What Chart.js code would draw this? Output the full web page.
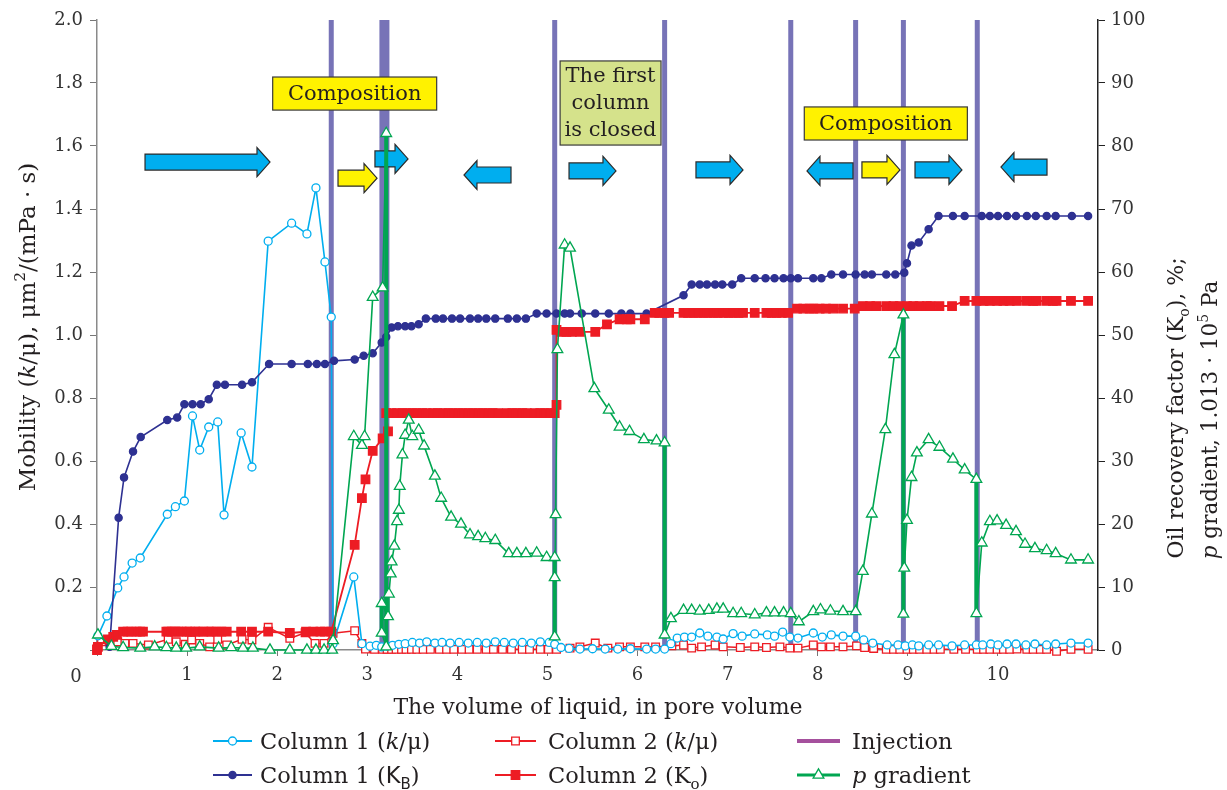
<!DOCTYPE html>
<html>
<head>
<meta charset="utf-8">
<script src="https://cdn.jsdelivr.net/npm/chart.js@4.4.1/dist/chart.umd.min.js"></script>
<style>
  html, body { margin: 0; padding: 0; background: #fff; }
  #wrap { width: 1227px; height: 790px; position: relative; }
</style>
</head>
<body>
<div id="wrap"><canvas id="chart"></canvas></div>
<script>
// Mobility and recovery vs injected pore volumes, two columns in series.
// Values: [pore volume, value].

// left axis, mobility k/mu, um2/(mPa*s)
const col1Mobility = [[0.01,0.045],[0.11,0.108],[0.23,0.197],[0.30,0.232],[0.39,0.276],[0.48,0.292],[0.78,0.431],[0.87,0.455],[0.97,0.473],[1.06,0.743],[1.14,0.635],[1.24,0.708],[1.34,0.724],[1.41,0.429],[1.60,0.689],[1.72,0.581],[1.90,1.298],[2.16,1.355],[2.33,1.321],[2.43,1.467],[2.53,1.232],[2.60,1.057],[2.62,0.020],[2.85,0.232],[2.94,0.020],[3.03,0.012],[3.10,0.015],[3.16,0.010],[3.22,0.012],[3.28,0.015],[3.35,0.018],[3.42,0.020],[3.50,0.024],[3.58,0.022],[3.66,0.026],[3.75,0.022],[3.83,0.024],[3.92,0.022],[4.02,0.024],[4.12,0.022],[4.22,0.024],[4.32,0.022],[4.42,0.026],[4.52,0.024],[4.62,0.022],[4.72,0.024],[4.82,0.022],[4.92,0.026],[5.02,0.024],[5.08,0.018],[5.15,0.008],[5.24,0.005],[5.36,0.003],[5.50,0.004],[5.64,0.003],[5.78,0.003],[5.92,0.004],[6.10,0.003],[6.20,0.003],[6.30,0.003],[6.37,0.020],[6.44,0.038],[6.52,0.041],[6.60,0.041],[6.69,0.054],[6.78,0.044],[6.88,0.041],[6.95,0.035],[7.06,0.052],[7.16,0.044],[7.30,0.051],[7.44,0.048],[7.52,0.044],[7.61,0.057],[7.69,0.041],[7.78,0.038],[7.95,0.054],[8.05,0.041],[8.15,0.048],[8.28,0.044],[8.42,0.044],[8.51,0.032],[8.61,0.022],[8.77,0.016],[8.89,0.016],[8.97,0.013],[9.05,0.016],[9.12,0.013],[9.23,0.016],[9.34,0.016],[9.49,0.013],[9.63,0.016],[9.76,0.016],[9.83,0.016],[9.92,0.019],[10.00,0.016],[10.10,0.019],[10.20,0.019],[10.31,0.016],[10.41,0.019],[10.54,0.016],[10.64,0.019],[10.81,0.022],[11.00,0.022]];

const col2Mobility = [[0.00,0.005],[0.05,0.026],[0.23,0.026],[0.31,0.021],[0.40,0.021],[0.57,0.016],[0.79,0.034],[0.88,0.026],[0.98,0.018],[1.05,0.032],[1.14,0.021],[1.25,0.010],[1.34,0.034],[1.44,0.016],[1.61,0.034],[1.72,0.032],[1.90,0.072],[2.14,0.037],[2.31,0.055],[2.42,0.021],[2.52,0.021],[2.62,0.053],[2.86,0.061],[2.94,0.021],[2.98,0.003],[3.08,0.002],[3.17,0.002],[3.22,0.002],[3.27,0.002],[3.32,0.002],[3.38,0.002],[3.43,0.002],[3.49,0.002],[3.55,0.002],[3.62,0.002],[3.70,0.002],[3.80,0.002],[3.88,0.002],[3.96,0.002],[4.05,0.002],[4.13,0.002],[4.22,0.002],[4.32,0.002],[4.40,0.002],[4.50,0.002],[4.60,0.002],[4.72,0.002],[4.80,0.002],[4.92,0.002],[5.01,0.002],[5.10,0.002],[5.25,0.006],[5.36,0.010],[5.53,0.022],[5.67,0.006],[5.80,0.010],[5.92,0.010],[6.08,0.010],[6.20,0.010],[6.38,0.013],[6.51,0.016],[6.60,0.006],[6.71,0.010],[6.86,0.016],[6.95,0.010],[7.14,0.008],[7.30,0.010],[7.43,0.008],[7.58,0.010],[7.69,0.006],[7.78,0.006],[7.95,0.016],[8.04,0.010],[8.14,0.010],[8.28,0.010],[8.43,0.013],[8.52,0.008],[8.62,0.005],[8.76,0.002],[8.84,0.002],[8.91,0.002],[8.99,0.002],[9.06,0.002],[9.13,0.002],[9.21,0.002],[9.29,0.002],[9.36,0.002],[9.51,0.002],[9.64,0.002],[9.77,0.002],[9.84,0.002],[9.91,0.002],[9.99,0.002],[10.06,0.002],[10.13,0.002],[10.21,0.003],[10.32,0.002],[10.39,0.002],[10.47,0.002],[10.54,0.002],[10.65,-0.004],[10.81,0.002],[11.00,0.002]];

// right axis, recovery factor %, pressure gradient
const col1Recovery = [[0.14,0.5],[0.24,21.0],[0.30,27.4],[0.40,31.5],[0.485,33.8],[0.78,36.5],[0.89,36.9],[0.97,39.0],[1.06,39.0],[1.15,39.0],[1.24,39.8],[1.33,42.1],[1.42,42.1],[1.61,42.1],[1.72,42.5],[1.91,45.4],[2.16,45.4],[2.34,45.4],[2.44,45.4],[2.53,45.4],[2.63,45.9],[2.86,46.1],[2.96,46.7],[3.06,47.1],[3.16,48.8],[3.21,49.7],[3.27,51.2],[3.34,51.4],[3.42,51.4],[3.49,51.4],[3.57,51.7],[3.65,52.6],[3.76,52.6],[3.84,52.6],[3.94,52.6],[4.03,52.6],[4.14,52.6],[4.23,52.6],[4.32,52.6],[4.42,52.6],[4.56,52.6],[4.66,52.6],[4.76,52.6],[4.88,53.4],[4.99,53.4],[5.10,53.4],[5.19,53.4],[5.25,53.4],[5.38,53.4],[5.53,53.4],[5.68,53.4],[5.82,53.4],[5.92,53.4],[6.10,53.4],[6.51,56.3],[6.60,58.0],[6.69,58.0],[6.77,58.0],[6.86,58.0],[6.94,58.0],[7.05,58.0],[7.15,59.0],[7.30,59.0],[7.42,59.0],[7.52,59.0],[7.62,59.0],[7.70,59.0],[7.78,59.0],[7.95,59.0],[8.04,59.0],[8.15,59.6],[8.28,59.6],[8.42,59.6],[8.52,59.6],[8.60,59.6],[8.76,59.6],[8.86,59.6],[8.96,59.9],[8.99,61.4],[9.04,64.2],[9.12,64.7],[9.23,66.8],[9.34,68.9],[9.50,68.9],[9.63,68.9],[9.82,68.9],[9.91,68.9],[10.00,68.9],[10.10,68.9],[10.20,68.9],[10.32,68.9],[10.42,68.9],[10.54,68.9],[10.64,68.9],[10.82,68.9],[11.00,68.9]];

const col2Recovery = [[0.00,0.0],[0.01,0.5],[0.12,1.7],[0.18,2.1],[0.22,2.4],[0.29,2.9],[0.34,2.9],[0.38,2.9],[0.44,2.9],[0.48,2.9],[0.51,2.9],[0.77,2.9],[0.79,2.9],[0.83,2.9],[0.87,2.9],[0.90,2.9],[0.94,2.9],[1.00,2.9],[1.03,2.9],[1.09,2.9],[1.13,2.9],[1.18,2.9],[1.24,2.9],[1.27,2.9],[1.33,2.9],[1.38,2.9],[1.44,2.9],[1.60,2.9],[1.72,2.9],[1.90,2.9],[2.14,2.7],[2.32,2.9],[2.40,2.9],[2.48,2.9],[2.53,2.9],[2.60,2.9],[2.86,16.7],[2.94,24.1],[2.98,27.1],[3.06,31.6],[3.17,33.6],[3.23,34.7],[3.21,37.6],[3.27,37.6],[3.33,37.6],[3.39,37.6],[3.44,37.6],[3.50,37.6],[3.55,37.6],[3.61,37.6],[3.66,37.6],[3.73,37.6],[3.78,37.6],[3.84,37.6],[3.90,37.6],[3.95,37.6],[4.01,37.6],[4.06,37.6],[4.12,37.6],[4.17,37.6],[4.23,37.6],[4.28,37.6],[4.34,37.6],[4.39,37.6],[4.45,37.6],[4.55,37.6],[4.61,37.6],[4.66,37.6],[4.72,37.6],[4.77,37.6],[4.86,37.6],[4.92,37.6],[4.97,37.6],[5.03,37.6],[5.08,37.6],[5.10,38.9],[5.10,50.8],[5.16,50.5],[5.21,50.5],[5.27,50.5],[5.36,50.5],[5.53,50.5],[5.66,51.7],[5.80,52.5],[5.88,52.5],[5.92,52.5],[6.08,52.5],[6.19,53.5],[6.24,53.5],[6.30,53.5],[6.35,53.5],[6.51,53.5],[6.56,53.5],[6.62,53.5],[6.67,53.5],[6.73,53.5],[6.78,53.5],[6.84,53.5],[6.89,53.5],[6.95,53.5],[7.01,53.5],[7.06,53.5],[7.12,53.5],[7.17,53.5],[7.30,53.5],[7.43,53.5],[7.49,53.5],[7.54,53.5],[7.60,53.5],[7.67,53.5],[7.77,54.2],[7.84,54.2],[7.91,54.2],[7.95,54.2],[8.02,54.2],[8.09,54.2],[8.17,54.2],[8.28,54.2],[8.41,54.2],[8.50,54.6],[8.58,54.6],[8.65,54.6],[8.76,54.6],[8.84,54.6],[8.91,54.6],[8.99,54.6],[9.06,54.6],[9.13,54.6],[9.21,54.6],[9.25,54.6],[9.35,54.6],[9.49,54.6],[9.63,55.4],[9.76,55.4],[9.84,55.4],[9.91,55.4],[9.99,55.4],[10.06,55.4],[10.13,55.4],[10.21,55.4],[10.32,55.4],[10.39,55.4],[10.43,55.4],[10.54,55.4],[10.61,55.4],[10.65,55.4],[10.81,55.4],[11.00,55.4]];

const pGradient = [[0.01,2.4],[0.16,0.6],[0.29,0.4],[0.48,0.3],[0.64,0.5],[0.77,0.4],[0.88,0.3],[0.99,0.3],[1.14,0.5],[1.35,0.3],[1.49,0.4],[1.62,0.3],[1.73,0.3],[1.92,0.0],[2.14,0.0],[2.33,0.0],[2.43,0.0],[2.52,0.0],[2.61,0.0],[2.62,1.5],[2.85,33.9],[2.94,32.5],[2.97,33.9],[3.06,56.0],[3.17,57.5],[3.21,82.0],[3.21,0.5],[3.16,2.7],[3.16,7.4],[3.23,5.3],[3.24,8.9],[3.26,12.1],[3.27,14.0],[3.30,16.5],[3.33,20.4],[3.35,22.2],[3.36,26.0],[3.39,31.0],[3.42,34.1],[3.46,36.5],[3.50,33.9],[3.57,34.9],[3.63,32.4],[3.75,27.6],[3.82,24.1],[3.93,21.1],[4.04,20.0],[4.14,18.3],[4.23,18.0],[4.31,17.7],[4.42,17.4],[4.57,15.3],[4.66,15.3],[4.76,15.3],[4.88,15.4],[4.99,14.7],[5.08,14.7],[5.08,11.5],[5.08,2.1],[5.09,21.5],[5.11,47.7],[5.19,64.3],[5.25,63.8],[5.52,41.5],[5.68,38.1],[5.80,35.4],[5.91,34.7],[6.07,33.4],[6.21,33.2],[6.30,32.9],[6.30,2.4],[6.37,5.0],[6.51,6.3],[6.60,6.3],[6.69,6.2],[6.79,6.3],[6.88,6.5],[6.95,6.5],[7.06,5.8],[7.15,5.8],[7.30,5.6],[7.43,5.9],[7.52,5.9],[7.62,5.9],[7.70,5.8],[7.79,4.5],[7.95,6.1],[8.03,6.4],[8.14,6.2],[8.28,6.1],[8.42,6.1],[8.50,12.5],[8.60,21.6],[8.75,35.0],[8.85,46.9],[8.95,53.2],[8.95,5.7],[8.96,13.0],[8.99,20.6],[9.04,27.4],[9.10,31.3],[9.23,33.4],[9.35,32.2],[9.50,30.3],[9.63,28.6],[9.76,27.1],[9.76,5.8],[9.82,17.0],[9.91,20.4],[9.99,20.5],[10.09,19.8],[10.20,18.8],[10.30,16.8],[10.41,16.1],[10.54,15.8],[10.64,15.3],[10.81,14.3],[11.00,14.3]];

// injection switch points, pore volumes
const injectionAt = [2.60, 3.19, 5.08, 6.30, 7.70, 8.42, 8.95, 9.77];

// ---- styles / annotations ----
const SERIF = '"DejaVu Serif", "Liberation Serif", serif';
const SANS = '"DejaVu Sans", sans-serif';
const INK = '#231f20';

const injectionWidth = x => (x === 3.19 ? 10 : 5);

// boxes in data units (x pore volume, y left axis)
const boxes = [
  { x0: 1.95, x1: 3.77, y0: 1.714, y1: 1.819, fill: '#fff200', lines: ['Composition'] },
  { x0: 5.14, x1: 6.26, y0: 1.603, y1: 1.870, fill: '#d5e28b', lines: ['The first', 'column', 'is closed'] },
  { x0: 7.85, x1: 9.66, y0: 1.619, y1: 1.724, fill: '#fff200', lines: ['Composition'] }
];

// flow direction arrows
const arrows = [
  { x0: 0.533, x1: 1.92, y: 1.549, dir: 1, fill: '#00aeef' },
  { x0: 2.675, x1: 3.108, y: 1.498, dir: 1, fill: '#fff200' },
  { x0: 3.085, x1: 3.452, y: 1.559, dir: 1, fill: '#00aeef' },
  { x0: 4.073, x1: 4.595, y: 1.508, dir: -1, fill: '#00aeef' },
  { x0: 5.239, x1: 5.760, y: 1.521, dir: 1, fill: '#00aeef' },
  { x0: 6.648, x1: 7.170, y: 1.524, dir: 1, fill: '#00aeef' },
  { x0: 7.880, x1: 8.391, y: 1.521, dir: -1, fill: '#00aeef' },
  { x0: 8.490, x1: 8.912, y: 1.524, dir: 1, fill: '#fff200' },
  { x0: 9.079, x1: 9.600, y: 1.524, dir: 1, fill: '#00aeef' },
  { x0: 10.033, x1: 10.544, y: 1.533, dir: -1, fill: '#00aeef' }
];

const pts = arr => arr.map(p => ({ x: p[0], y: p[1] }));

const series = [
  { key: 'pg', data: pGradient, axis: 'y1', color: '#00a651', shape: 'triangle', r: 6.2, fill: '#fff', bw: 1.6 },
  { key: 'c2k', data: col2Recovery, axis: 'y1', color: '#ed1c24', shape: 'rect', r: 6, fill: '#ed1c24', bw: 1.8 },
  { key: 'c1k', data: col1Recovery, axis: 'y1', color: '#2e3192', shape: 'circle', r: 3.6, fill: '#2e3192', bw: 1.6 },
  { key: 'c1m', data: col1Mobility, axis: 'y', color: '#00aeef', shape: 'circle', r: 4, fill: '#fff', bw: 1.6 },
  { key: 'c2m', data: col2Mobility, axis: 'y', color: '#ed1c24', shape: 'rect', r: 5.4, fill: '#fff', bw: 1.5 }
];
const styleOf = k => series.find(s => s.key === k);

function fontFor(p, size) {
  const s = (p.sub || p.sup) ? Math.round(size * 0.65) : size;
  return (p.it ? 'italic ' : '') + s + 'px ' + (p.sans ? SANS : SERIF);
}

function drawRich(ctx, parts, x, y, size, align) {
  let w = 0;
  parts.forEach(p => { ctx.font = fontFor(p, size); w += ctx.measureText(p.t).width; });
  let cx = align === 'center' ? x - w / 2 : x;
  parts.forEach(p => {
    ctx.font = fontFor(p, size);
    const dy = p.sub ? size * 0.28 : p.sup ? -size * 0.42 : 0;
    ctx.fillText(p.t, cx, y + dy);
    cx += ctx.measureText(p.t).width;
  });
}

function drawMarker(ctx, shape, x, y, r, stroke, fill) {
  ctx.save();
  ctx.strokeStyle = stroke; ctx.fillStyle = fill; ctx.lineWidth = 1.3;
  ctx.beginPath();
  if (shape === 'circle') ctx.arc(x, y, r, 0, Math.PI * 2);
  else if (shape === 'rect') { const s = r * Math.SQRT1_2; ctx.rect(x - s, y - s, 2 * s, 2 * s); }
  else if (shape === 'triangle') {
    let a = 0;
    ctx.moveTo(x + Math.sin(a) * r, y - Math.cos(a) * r);
    a += Math.PI * 2 / 3; ctx.lineTo(x + Math.sin(a) * r, y - Math.cos(a) * r);
    a += Math.PI * 2 / 3; ctx.lineTo(x + Math.sin(a) * r, y - Math.cos(a) * r);
    ctx.closePath();
  }
  ctx.fill(); ctx.stroke();
  ctx.restore();
}

function drawArrow(ctx, x0, x1, yc, dir, fill) {
  const sh = 8, hh = 14.5, hl = 13;
  ctx.beginPath();
  if (dir > 0) {
    ctx.moveTo(x0, yc - sh); ctx.lineTo(x1 - hl, yc - sh); ctx.lineTo(x1 - hl, yc - hh);
    ctx.lineTo(x1, yc); ctx.lineTo(x1 - hl, yc + hh); ctx.lineTo(x1 - hl, yc + sh); ctx.lineTo(x0, yc + sh);
  } else {
    ctx.moveTo(x1, yc - sh); ctx.lineTo(x0 + hl, yc - sh); ctx.lineTo(x0 + hl, yc - hh);
    ctx.lineTo(x0, yc); ctx.lineTo(x0 + hl, yc + hh); ctx.lineTo(x0 + hl, yc + sh); ctx.lineTo(x1, yc + sh);
  }
  ctx.closePath();
  ctx.fillStyle = fill; ctx.fill();
  ctx.lineWidth = 1.2; ctx.strokeStyle = '#2b2b2b'; ctx.stroke();
}

const decor = {
  id: 'decor',
  beforeDatasetsDraw(chart) {
    const { ctx, scales: { x, y } } = chart;
    ctx.save();
    // injection lines
    ctx.strokeStyle = '#7773b7';
    injectionAt.forEach(v => {
      const px = x.getPixelForValue(v);
      ctx.lineWidth = injectionWidth(v);
      ctx.beginPath();
      ctx.moveTo(px, y.getPixelForValue(2));
      ctx.lineTo(px, y.getPixelForValue(0));
      ctx.stroke();
    });
    // boxes
    boxes.forEach(b => {
      const l = x.getPixelForValue(b.x0), r = x.getPixelForValue(b.x1);
      const t = y.getPixelForValue(b.y1), bt = y.getPixelForValue(b.y0);
      ctx.fillStyle = b.fill; ctx.fillRect(l, t, r - l, bt - t);
      ctx.lineWidth = 1.2; ctx.strokeStyle = '#3a3a3a'; ctx.strokeRect(l, t, r - l, bt - t);
      ctx.fillStyle = INK; ctx.font = '21px ' + SERIF; ctx.textAlign = 'center'; ctx.textBaseline = 'middle';
      const lh = 27, cy = (t + bt) / 2 - (b.lines.length - 1) * lh / 2;
      b.lines.forEach((s, i) => ctx.fillText(s, (l + r) / 2, cy + i * lh + 1));
    });
    // arrows
    arrows.forEach(a => drawArrow(ctx, x.getPixelForValue(a.x0), x.getPixelForValue(a.x1), y.getPixelForValue(a.y), a.dir, a.fill));
    ctx.restore();
  },
  afterDraw(chart) {
    const { ctx, chartArea: ca } = chart;
    ctx.save();
    ctx.fillStyle = INK; ctx.textBaseline = 'alphabetic'; ctx.textAlign = 'left';
    // origin label
    ctx.font = '18px ' + SERIF; ctx.fillStyle = '#333'; ctx.textAlign = 'center';
    ctx.fillText('0', ca.left - 21, ca.bottom + 32);
    ctx.textAlign = 'left';
    ctx.fillStyle = INK;
    // x title
    drawRich(ctx, [{ t: 'The volume of liquid, in pore volume' }], 598, 714, 22, 'center');
    // left title
    ctx.save(); ctx.translate(27, 327); ctx.rotate(-Math.PI / 2);
    drawRich(ctx, [{ t: 'Mobility (' }, { t: 'k', it: true }, { t: '/μ), μm' }, { t: '2', sup: true }, { t: '/(mPa · s)' }], 0, 8, 23, 'center');
    ctx.restore();
    // right title
    ctx.save(); ctx.translate(1175, 408); ctx.rotate(-Math.PI / 2);
    drawRich(ctx, [{ t: 'Oil recovery factor (K' }, { t: 'o', sub: true }, { t: '), %;' }], 0, 8, 22, 'center');
    ctx.restore();
    ctx.save(); ctx.translate(1209, 420); ctx.rotate(-Math.PI / 2);
    drawRich(ctx, [{ t: 'p', it: true }, { t: ' gradient, 1.013 · 10' }, { t: '5', sup: true }, { t: ' Pa' }], 0, 8, 21.5, 'center');
    ctx.restore();
    // legend
    const cols = [{ a: 213, b: 252, t: 260 }, { a: 495, b: 536, t: 548 }, { a: 797, b: 840, t: 852 }];
    const rows = [741, 775];
    const items = [
      { c: 0, r: 0, k: 'c1m', text: [{ t: 'Column 1 (' }, { t: 'k', it: true }, { t: '/μ)' }] },
      { c: 1, r: 0, k: 'c2m', text: [{ t: 'Column 2 (' }, { t: 'k', it: true }, { t: '/μ)' }] },
      { c: 2, r: 0, k: null, text: [{ t: 'Injection' }] },
      { c: 0, r: 1, k: 'c1k', text: [{ t: 'Column 1 (' }, { t: 'K', sans: true }, { t: 'B', sub: true, sans: true }, { t: ')' }] },
      { c: 1, r: 1, k: 'c2k', text: [{ t: 'Column 2 (K' }, { t: 'o', sub: true }, { t: ')' }] },
      { c: 2, r: 1, k: 'pg', text: [{ t: 'p', it: true }, { t: ' gradient' }] }
    ];
    items.forEach(it => {
      const col = cols[it.c], yy = rows[it.r];
      if (it.k) {
        const s = styleOf(it.k);
        ctx.strokeStyle = s.color; ctx.lineWidth = it.k === 'pg' ? 3 : 2;
        ctx.beginPath(); ctx.moveTo(col.a, yy); ctx.lineTo(col.b, yy); ctx.stroke();
        drawMarker(ctx, s.shape, (col.a + col.b) / 2, yy, s.r, s.color, s.fill);
      } else {
        ctx.strokeStyle = '#a5509d'; ctx.lineWidth = 4;
        ctx.beginPath(); ctx.moveTo(col.a, yy); ctx.lineTo(col.b, yy); ctx.stroke();
      }
      ctx.fillStyle = INK;
      drawRich(ctx, it.text, col.t, yy + 8, 22.5, 'left');
    });
    ctx.restore();
  }
};

const tickFont = { family: SERIF, size: 18 };
const intTicks = a => { a.ticks = a.ticks.filter(t => Math.abs(t.value - Math.round(t.value)) < 1e-9); };

new Chart(document.getElementById('chart'), {
  type: 'scatter',
  data: {
    datasets: series.map(s => ({
      label: s.key,
      data: pts(s.data),
      yAxisID: s.axis,
      showLine: true,
      tension: 0,
      clip: false,
      borderColor: s.color,
      borderWidth: s.bw,
      pointStyle: s.shape,
      pointRadius: s.r,
      pointBorderWidth: 1.3,
      pointBackgroundColor: s.fill,
      pointBorderColor: s.color,
      segment: s.key === 'pg' ? {
        borderWidth: c => (Math.abs(c.p0.x - c.p1.x) < 0.5 && Math.abs(c.p0.y - c.p1.y) > 20 ? 4 : s.bw)
      } : undefined
    }))
  },
  options: {
    responsive: true,
    maintainAspectRatio: false,
    animation: false,
    layout: { padding: { top: 20, left: 0, right: 0, bottom: 0 } },
    plugins: { legend: { display: false }, tooltip: { enabled: false } },
    scales: {
      x: {
        type: 'linear', min: 0, max: 11.11,
        afterBuildTicks: intTicks,
        afterFit: s => { s.height = 140; },
        ticks: { stepSize: 1, color: '#333', font: tickFont, padding: 9, maxRotation: 0, autoSkip: false,
          callback: v => (v === 0 ? '' : String(v)) },
        grid: { drawOnChartArea: false, drawTicks: true, tickLength: 6, color: '#777' },
        border: { color: '#8a8a8a', width: 1.5 }
      },
      y: {
        position: 'left', min: 0, max: 2,
        afterFit: s => { s.width = 97; },
        ticks: { stepSize: 0.2, color: '#333', font: tickFont, padding: 7,
          callback: v => (Math.abs(v) < 1e-9 ? '' : Number(v).toFixed(1)) },
        grid: { drawOnChartArea: false, drawTicks: true, tickLength: 7, color: '#777' },
        border: { color: '#8a8a8a', width: 1.5 }
      },
      y1: {
        position: 'right', min: 0, max: 100,
        afterFit: s => { s.width = 129; },
        ticks: { stepSize: 10, color: '#333', font: tickFont, padding: 6 },
        grid: { drawOnChartArea: false, drawTicks: true, tickLength: 7, color: '#222' },
        border: { color: '#222', width: 1.5 }
      }
    }
  },
  plugins: [decor]
});
</script>
</body>
</html>
